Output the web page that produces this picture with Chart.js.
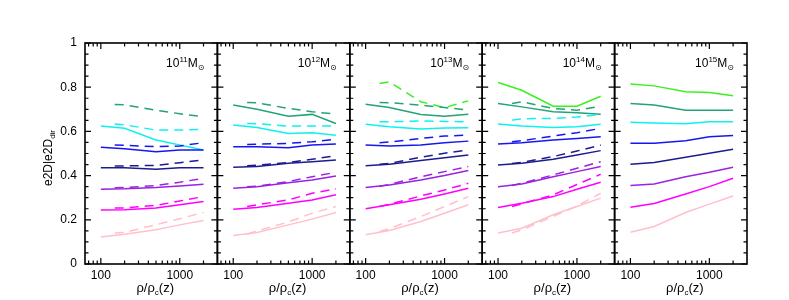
<!DOCTYPE html>
<html>
<head>
<meta charset="utf-8">
<script src="https://cdn.jsdelivr.net/npm/chart.js@4.4.1/dist/chart.umd.min.js"></script>
<style>
  html, body { margin: 0; padding: 0; background: #fff; }
  #wrap { position: relative; width: 789px; height: 300px; overflow: hidden; background: #fff; }
  #wrap canvas { position: absolute; top: 0; }
</style>
</head>
<body>
<div id="wrap"></div>
<script>
// ==========================================
// Data
// ==========================================
const massExponents = ['11', '12', '13', '14', '15'];
const rhoSolid = [100, 200, 500, 1000, 2000];
const rhoDashed = [150, 200, 500, 1000, 2000];
const yTickValues = [0, 0.2, 0.4, 0.6, 0.8, 1];
const xTickValues = [100, 1000];
const xMinorTicks = [70, 80, 90, 200, 300, 400, 500, 600, 700, 800, 900, 2000];
const seriesNames = ['pink', 'magenta', 'purple', 'navy', 'blue', 'cyan', 'green', 'lime'];

// rows follow seriesNames, null = no line in that panel
const solid11 = [
  [0.122, 0.135, 0.155, 0.177, 0.197],
  [0.244, 0.246, 0.253, 0.268, 0.283],
  [0.338, 0.340, 0.346, 0.353, 0.361],
  [0.436, 0.436, 0.429, 0.435, 0.435],
  [0.528, 0.522, 0.508, 0.516, 0.516],
  [0.624, 0.614, 0.561, 0.538, 0.516],
  null,
  null
];
const dashed11 = [
  [0.140, 0.143, 0.178, 0.205, 0.233],
  [0.253, 0.254, 0.265, 0.285, 0.305],
  [0.345, 0.346, 0.355, 0.370, 0.388],
  [0.443, 0.444, 0.446, 0.458, 0.471],
  [0.538, 0.537, 0.531, 0.534, 0.549],
  [0.633, 0.630, 0.606, 0.606, 0.610],
  [0.722, 0.720, 0.696, 0.680, 0.666],
  null
];

const solid12 = [
  [0.129, 0.143, 0.177, 0.203, 0.233],
  [0.248, 0.256, 0.275, 0.290, 0.313],
  [0.343, 0.350, 0.368, 0.380, 0.398],
  [0.438, 0.441, 0.456, 0.463, 0.471],
  [0.531, 0.530, 0.526, 0.538, 0.543],
  [0.629, 0.618, 0.591, 0.594, 0.583],
  [0.719, 0.700, 0.669, 0.677, 0.636],
  null
];
const dashed12 = [
  [0.135, 0.150, 0.190, 0.230, 0.260],
  [0.260, 0.268, 0.290, 0.320, 0.340],
  [0.350, 0.352, 0.373, 0.395, 0.415],
  [0.445, 0.447, 0.459, 0.474, 0.490],
  [0.541, 0.542, 0.546, 0.553, 0.564],
  [0.636, 0.635, 0.624, 0.624, 0.624],
  [0.731, 0.729, 0.704, 0.689, 0.678],
  null
];

const solid13 = [
  [0.132, 0.152, 0.192, 0.230, 0.268],
  [0.250, 0.268, 0.293, 0.317, 0.343],
  [0.346, 0.358, 0.380, 0.400, 0.423],
  [0.445, 0.451, 0.468, 0.481, 0.493],
  [0.538, 0.534, 0.538, 0.549, 0.556],
  [0.632, 0.621, 0.611, 0.615, 0.617],
  [0.723, 0.708, 0.677, 0.669, 0.678],
  null
];
const dashed13 = [
  [0.147, 0.160, 0.215, 0.260, 0.305],
  [0.260, 0.270, 0.308, 0.335, 0.365],
  [0.352, 0.360, 0.395, 0.418, 0.441],
  [0.451, 0.455, 0.483, 0.501, 0.516],
  [0.549, 0.552, 0.568, 0.579, 0.583],
  [0.644, 0.644, 0.647, 0.645, 0.644],
  [0.731, 0.730, 0.719, 0.708, 0.696],
  [0.817, 0.824, 0.734, 0.708, 0.738]
];

const solid14 = [
  [0.140, 0.162, 0.223, 0.260, 0.298],
  [0.256, 0.275, 0.305, 0.338, 0.370],
  [0.350, 0.362, 0.395, 0.418, 0.441],
  [0.448, 0.456, 0.474, 0.493, 0.513],
  [0.543, 0.549, 0.561, 0.568, 0.576],
  [0.633, 0.624, 0.618, 0.621, 0.632],
  [0.726, 0.711, 0.689, 0.684, 0.678],
  [0.821, 0.786, 0.714, 0.714, 0.759]
];
const dashed14 = [
  [0.140, 0.155, 0.215, 0.262, 0.320],
  [0.260, 0.272, 0.313, 0.360, 0.406],
  [0.355, 0.365, 0.403, 0.433, 0.463],
  [0.455, 0.460, 0.486, 0.511, 0.538],
  [0.553, 0.558, 0.579, 0.594, 0.614],
  [0.651, 0.657, 0.659, 0.665, 0.677],
  [0.726, 0.734, 0.704, 0.696, 0.714],
  null
];

const solid15 = [
  [0.144, 0.170, 0.233, 0.271, 0.308],
  [0.257, 0.274, 0.317, 0.350, 0.388],
  [0.355, 0.362, 0.395, 0.415, 0.438],
  [0.451, 0.459, 0.483, 0.501, 0.519],
  [0.546, 0.546, 0.558, 0.576, 0.582],
  [0.641, 0.638, 0.635, 0.644, 0.644],
  [0.726, 0.719, 0.696, 0.696, 0.696],
  [0.814, 0.806, 0.779, 0.776, 0.761]
];
const dashed15 = [null, null, null, null, null, null, null, null];

const solidByPanel = [solid11, solid12, solid13, solid14, solid15];
const dashedByPanel = [dashed11, dashed12, dashed13, dashed14, dashed15];

// ==========================================
// Styles
// ==========================================
const colours = {
  pink: '#ffc0cb',
  magenta: '#ff00ff',
  purple: '#9a22e0',
  navy: '#1c1c8e',
  blue: '#1616f0',
  cyan: '#10f0f0',
  green: '#22a474',
  lime: '#3cf020'
};
const FONT = '"Liberation Sans", Arial, "DejaVu Sans", sans-serif';
const PLOT_LEFT = 85;
const PLOT_W = 132.4;
const PLOT_TOP = 43;
const PLOT_BOTTOM = 264;
const H = 300;

// draws text pieces in a row: [text, size, yShift]
function drawPieces(ctx, pieces, x, y) {
  let cx = x;
  pieces.forEach(([txt, size, dy]) => {
    ctx.font = `${size}px ${FONT}`;
    ctx.fillText(txt, cx, y + dy);
    cx += ctx.measureText(txt).width;
  });
}
function piecesWidth(ctx, pieces) {
  return pieces.reduce((w, [txt, size]) => {
    ctx.font = `${size}px ${FONT}`;
    return w + ctx.measureText(txt).width;
  }, 0);
}

// ==========================================
// Frame / ticks / labels plugin
// ==========================================
const framePlugin = (exp, first) => ({
  id: 'frame',
  afterDraw(chart) {
    const { ctx, chartArea: a, scales: { x, y } } = chart;
    ctx.save();
    ctx.strokeStyle = '#000';
    ctx.lineWidth = 1.6;
    ctx.strokeRect(a.left, a.top, a.right - a.left, a.bottom - a.top);

    ctx.lineWidth = 1.2;
    ctx.beginPath();
    for (let k = 0; k <= 20; k++) {
      const py = y.getPixelForValue(k * 0.05);
      const len = k % 4 === 0 ? 6 : 3.5;
      ctx.moveTo(a.left, py); ctx.lineTo(a.left + len, py);
      ctx.moveTo(a.right, py); ctx.lineTo(a.right - len, py);
    }
    const xt = xTickValues.map(v => [v, 6]).concat(xMinorTicks.map(v => [v, 3.5]));
    xt.forEach(([v, len]) => {
      const px = x.getPixelForValue(v);
      ctx.moveTo(px, a.bottom); ctx.lineTo(px, a.bottom - len);
      ctx.moveTo(px, a.top); ctx.lineTo(px, a.top + len);
    });
    ctx.stroke();

    ctx.fillStyle = '#000';
    ctx.textAlign = 'left';
    ctx.textBaseline = 'alphabetic';

    // mass label
    const mass = [['10', 12, 0], [exp, 8, -5], ['M', 12, 0], ['\u2299', 8, 3]];
    const mw = piecesWidth(ctx, mass);
    drawPieces(ctx, mass, a.right - 13 - mw, a.top + 24);

    // x title
    const xt2 = [['\u03c1/\u03c1', 13, 0], ['c', 8, 3], ['(z)', 13, 0]];
    const xw = piecesWidth(ctx, xt2);
    drawPieces(ctx, xt2, (a.left + a.right) / 2 + 4 - xw / 2, 292);

    // y title
    if (first) {
      const yt = [['e2D|e2D', 12, 0], ['dir', 8, 3]];
      const yw = piecesWidth(ctx, yt);
      ctx.translate(48, 158);
      ctx.rotate(-Math.PI / 2);
      drawPieces(ctx, yt, -yw / 2, 4);
    }
    ctx.restore();
  }
});

// ==========================================
// Build panels
// ==========================================
const wrap = document.getElementById('wrap');

massExponents.forEach((exp, i) => {
  const L = PLOT_LEFT + PLOT_W * i;
  const R = L + PLOT_W;
  const first = i === 0;
  const cLeft = first ? 0 : Math.floor(L) - 14;
  const cRight = Math.ceil(R) + 14;
  const cw = cRight - cLeft;

  const canvas = document.createElement('canvas');
  canvas.width = cw;
  canvas.height = H;
  canvas.style.left = cLeft + 'px';
  canvas.style.width = cw + 'px';
  canvas.style.height = H + 'px';
  wrap.appendChild(canvas);

  const datasets = [];
  seriesNames.forEach((name, k) => {
    const s = solidByPanel[i][k];
    const d = dashedByPanel[i][k];
    if (d) datasets.push({
      data: rhoDashed.map((r, j) => ({ x: r, y: d[j] })),
      borderColor: colours[name],
      borderWidth: 1.5,
      borderDash: [9, 6],
      pointRadius: 0,
      fill: false
    });
    if (s) datasets.push({
      data: rhoSolid.map((r, j) => ({ x: r, y: s[j] })),
      borderColor: colours[name],
      borderWidth: 1.5,
      pointRadius: 0,
      fill: false
    });
  });

  new Chart(canvas.getContext('2d'), {
    type: 'line',
    data: { datasets },
    options: {
      responsive: false,
      animation: false,
      devicePixelRatio: 1,
      layout: {
        padding: {
          left: first ? 0 : L - cLeft,
          right: cRight - R,
          top: PLOT_TOP,
          bottom: 0
        }
      },
      plugins: { legend: { display: false }, tooltip: { enabled: false } },
      scales: {
        x: {
          type: 'logarithmic',
          min: 63,
          max: 3000,
          grid: { display: false, drawTicks: false },
          border: { display: false },
          afterBuildTicks: s => { s.ticks = xTickValues.map(v => ({ value: v })); },
          afterFit: s => { s.height = H - PLOT_BOTTOM; },
          ticks: {
            autoSkip: false,
            maxRotation: 0,
            padding: 4,
            color: '#000',
            font: { family: FONT, size: 12 },
            callback: v => String(v)
          }
        },
        y: {
          display: first,
          min: 0,
          max: 1,
          grid: { display: false, drawTicks: false },
          border: { display: false },
          afterBuildTicks: s => { s.ticks = yTickValues.map(v => ({ value: v })); },
          afterFit: s => { s.width = first ? PLOT_LEFT : 0; },
          ticks: {
            padding: 8,
            color: '#000',
            font: { family: FONT, size: 12 },
            callback: v => (v === 0 ? '0' : v === 1 ? '1' : v.toFixed(1))
          }
        }
      }
    },
    plugins: [framePlugin(exp, first)]
  });
});
</script>
</body>
</html>
